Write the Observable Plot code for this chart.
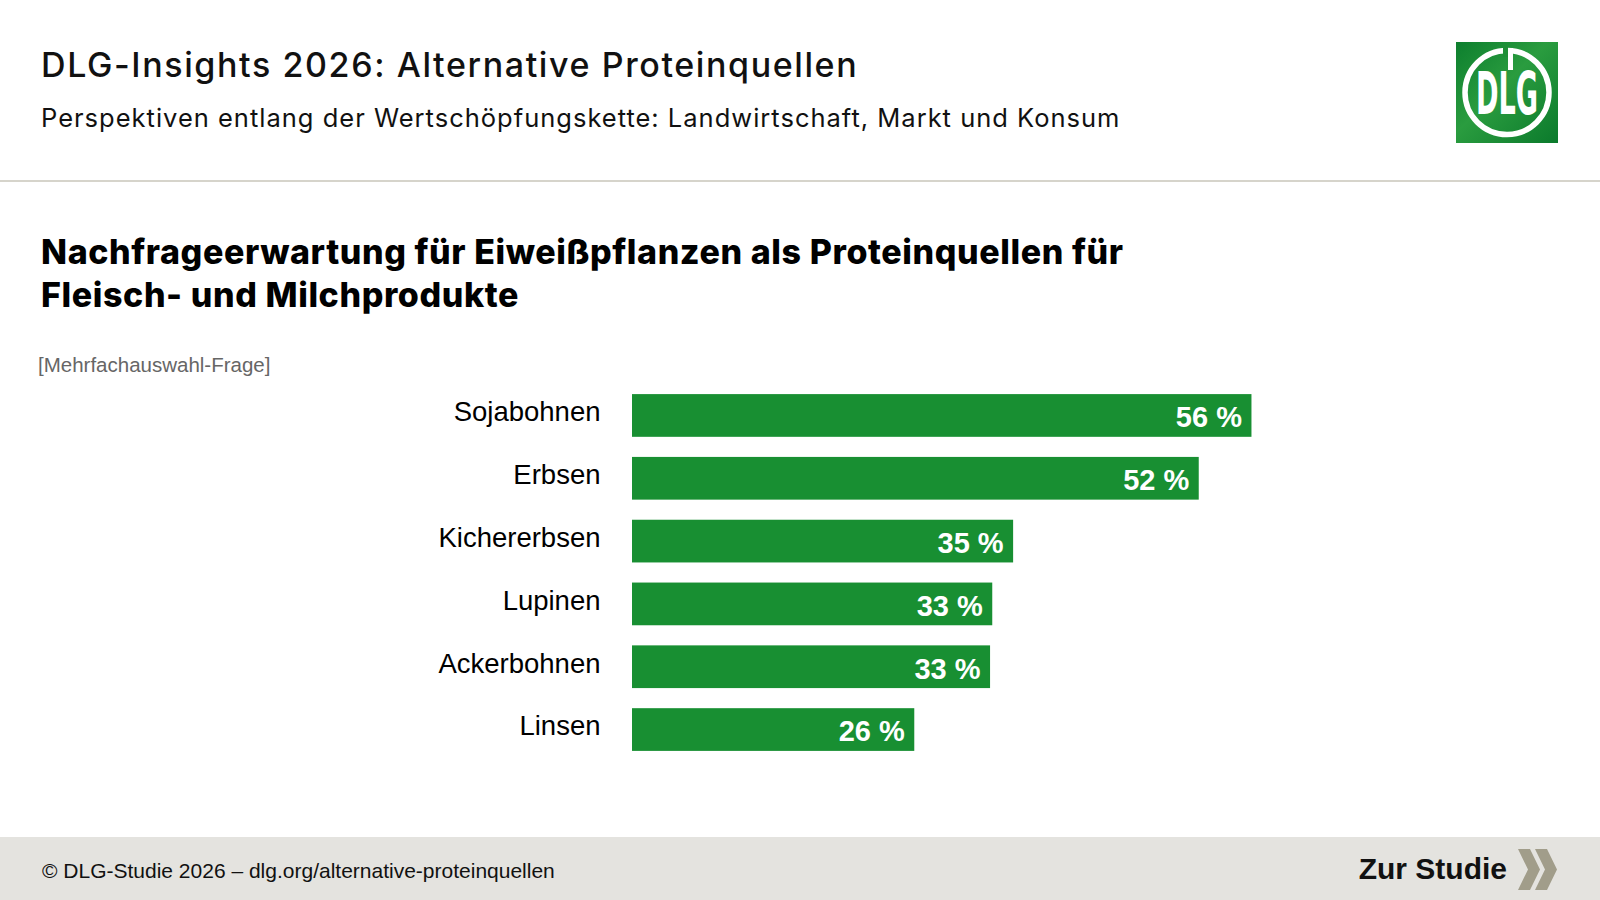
<!DOCTYPE html>
<html lang="de">
<head>
<meta charset="utf-8">
<script src="https://cdn.jsdelivr.net/npm/d3@7"></script>
<script src="https://cdn.jsdelivr.net/npm/@observablehq/plot@0.6"></script>
<style>
  html, body { margin: 0; padding: 0; background: #fff; }
  body { width: 1600px; height: 900px; position: relative; overflow: hidden; font-family: "Liberation Sans", Arial, sans-serif; color: #000; }
  .abs { position: absolute; white-space: nowrap; }
  #title { left: 41px; top: 45px; font-family: Inter, sans-serif; font-weight: 500; font-size: 34px; letter-spacing: 1.6px; line-height: 40px; color: #111; }
  #subtitle { left: 41px; top: 102px; font-family: Inter, sans-serif; font-weight: 400; font-size: 25.5px; letter-spacing: 1px; line-height: 32px; color: #111; }
  #sep { left: 0; top: 180px; width: 1600px; height: 2px; background: #d6d4cb; }
  #ctitle { left: 41px; top: 231px; font-family: Inter, sans-serif; font-weight: 800; font-size: 34px; letter-spacing: 0.6px; line-height: 42.5px; color: #000; }
  #note { left: 38px; top: 353px; font-size: 20.5px; color: #666; }
  #chart { position: absolute; left: 0; top: 340px; }
  #footer { left: 0; top: 837px; width: 1600px; height: 63px; background: #e4e3df; }
  #ftext { left: 42px; top: 859px; font-size: 21px; color: #111; }
  #zur { right: 93px; top: 852px; font-size: 30px; font-weight: bold; color: #111; }
  #logo { left: 1456px; top: 42px; }
  #chev { left: 1515px; top: 846px; }
</style>
</head>
<body>
<div class="abs" id="title">DLG-Insights 2026: Alternative Proteinquellen</div>
<div class="abs" id="subtitle">Perspektiven entlang der Wertschöpfungskette: Landwirtschaft, Markt und Konsum</div>
<svg class="abs" id="logo" width="102" height="101" viewBox="0 0 102 101">
  <defs>
    <linearGradient id="lg" x1="0" y1="0" x2="1" y2="1">
      <stop offset="0" stop-color="#0d7f2e"/>
      <stop offset="0.45" stop-color="#2a9c3f"/>
      <stop offset="1" stop-color="#0b7a2c"/>
    </linearGradient>
  </defs>
  <rect width="102" height="101" fill="url(#lg)"/>
  <circle cx="51" cy="50.5" r="42" fill="none" stroke="#fff" stroke-width="5.5"/>
  <rect x="47" y="3" width="5" height="12" fill="#1f8f37"/>
  <rect x="52" y="6" width="5" height="22" fill="#fff"/>
  <g transform="translate(51,72) scale(0.52,1)">
    <text x="0" y="0" text-anchor="middle" font-family="'DejaVu Sans Condensed','DejaVu Sans',sans-serif" font-weight="bold" font-size="58" fill="#fff">DLG</text>
  </g>
</svg>
<div class="abs" id="sep"></div>
<div class="abs" id="ctitle">Nachfrageerwartung für Eiweißpflanzen als Proteinquellen für<br>Fleisch- und Milchprodukte</div>
<div class="abs" id="note">[Mehrfachauswahl-Frage]</div>
<div id="chart"></div>
<div class="abs" id="footer"></div>
<div class="abs" id="ftext">© DLG-Studie 2026 – dlg.org/alternative-proteinquellen</div>
<div class="abs" id="zur">Zur Studie</div>
<svg class="abs" id="chev" width="46" height="48" viewBox="0 0 46 48">
  <polygon points="3,3 15,3 25,23.5 15,44 3,44 13,23.5" fill="#a19d8a"/>
  <polygon points="20,3 32,3 42,23.5 32,44 20,44 30,23.5" fill="#a19d8a"/>
</svg>
<script>
// Data
const categories = ["Sojabohnen", "Erbsen", "Kichererbsen", "Lupinen", "Ackerbohnen", "Linsen"];
const values = [56.4, 51.6, 34.7, 32.8, 32.6, 25.7];
const labels = ["56 %", "52 %", "35 %", "33 %", "33 %", "26 %"];

const data = categories.map((c, i) => ({category: c, value: values[i], label: labels[i]}));

const plot = Plot.plot({
  width: 1600,
  height: 441,
  marginLeft: 632,
  marginRight: 309,
  marginTop: 34,
  marginBottom: 10,
  style: {fontFamily: "'Liberation Sans', Arial, sans-serif", color: "#000", background: "transparent", overflow: "visible"},
  x: {domain: [0, 60], axis: null},
  y: {domain: categories, padding: 0.32, round: false, label: null},
  marks: [
    Plot.barX(data, {x: "value", y: "category", fill: "#188f32"}),
    Plot.axisY({tickSize: 0, tickPadding: 32, fontSize: 27.5, label: null, dy: -3.5}),
    Plot.text(data, {x: "value", y: "category", text: "label", textAnchor: "end", dx: -10, dy: 2, fill: "#fff", fontWeight: "bold", fontSize: 29})
  ]
});
document.getElementById("chart").appendChild(plot);
</script>
</body>
</html>
